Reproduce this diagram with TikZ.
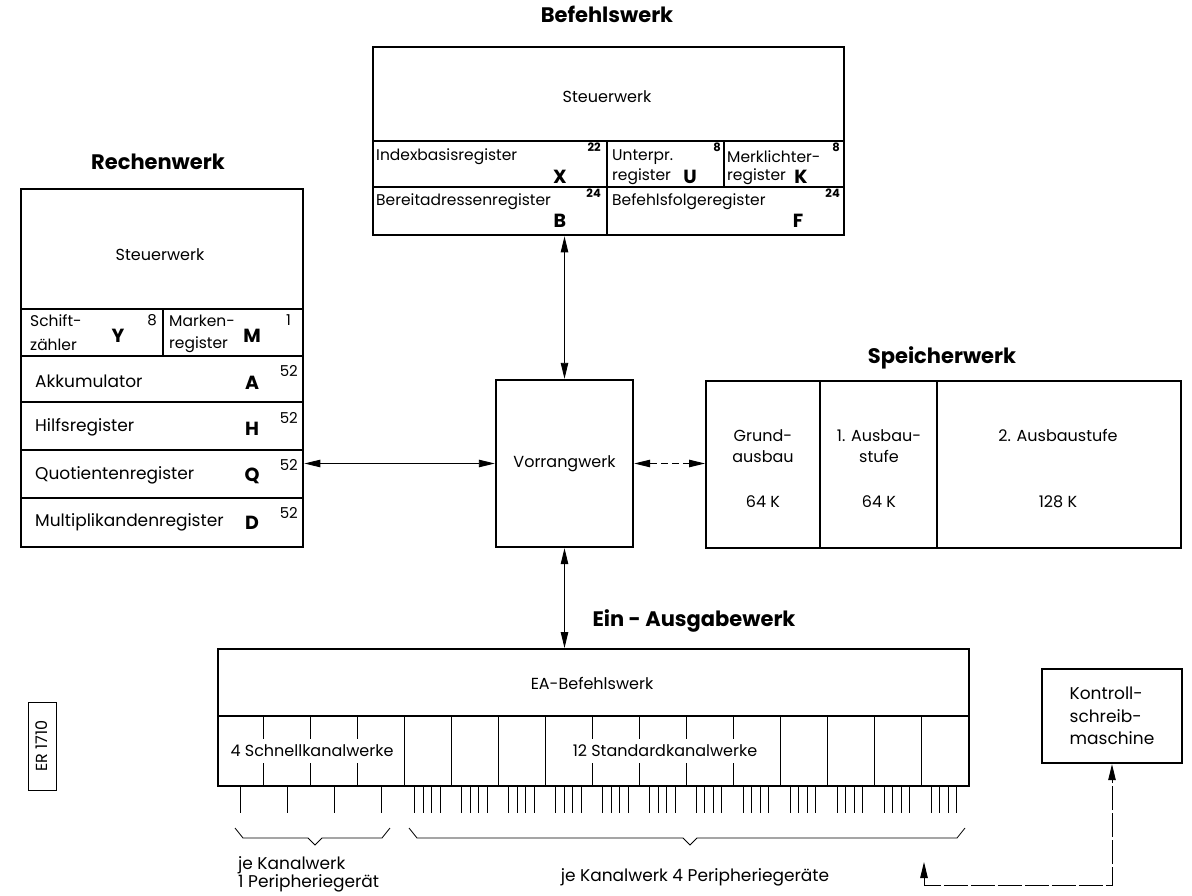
\documentclass[tikz,border=0pt]{standalone}
\usepackage{fontspec}
\setmainfont{Poppins}
\usetikzlibrary{arrows.meta}
\newcommand\fbody{\fontsize{16}{19}\selectfont}
\newcommand\freg{\fontsize{17}{20}\selectfont}
\newcommand\fcell{\fontsize{15.5}{19}\selectfont}
\newcommand\ftitle{\fontsize{21}{25}\selectfont\bfseries}
\newcommand\fletter{\fontsize{19}{22}\selectfont\bfseries}
\newcommand\fsmall{\fontsize{11.5}{13}\selectfont\bfseries}
\newcommand\fnum{\fontsize{15}{17}\selectfont}
\newcommand\fkon{\fontsize{17}{22.5}\selectfont}
\begin{document}
\begin{tikzpicture}[x=1pt,y=-1pt,
  >={Triangle[length=16pt,width=7.5pt]},
  outer/.style={draw, line width=2.4pt, inner sep=0pt},
  part/.style={line width=1.1pt},
  tick/.style={line width=0.8pt},
  conn/.style={line width=0.9pt, <->},
  brace/.style={line width=0.8pt},
  title/.style={inner sep=0pt, font=\ftitle},
  body/.style={inner sep=0pt, font=\fbody},
  cell/.style={inner sep=0pt, font=\fcell, anchor=west},
  reg/.style={inner sep=0pt, font=\freg, anchor=west},
  letter/.style={inner sep=0pt, font=\fletter},
  small/.style={inner sep=0pt, font=\fsmall, anchor=east},
  num/.style={inner sep=0pt, font=\fnum, anchor=east},
  gap/.style={inner xsep=2pt, inner ysep=6pt, fill=white, font=\fbody}
]
\useasboundingbox (0,0) rectangle (1192,896);

% ---------------- Befehlswerk ----------------
\node[title] (befT) at (607,14) {Befehlswerk};
\node[outer, anchor=north west, minimum width=471, minimum height=188] (bef) at (372,46) {};
\node[body] (befS) at (607,97) {Steuerwerk};
\draw[part] (372,141) -- (843,141);
\draw[part] (372,187) -- (843,187);
\draw[part] (607,141) -- (607,234);
\draw[part] (724,141) -- (724,187);
\node[cell] (bx1) at (376,157) {Indexbasisregister};
\node[small] (bx2) at (601,147) {22};
\node[letter] (bx3) at (560,177) {X};
\node[cell] (bu1) at (612,157) {Unterpr.};
\node[cell] (bu2) at (612,177) {register};
\node[letter] (bu3) at (690,177) {U};
\node[small] (bu4) at (721,147) {8};
\node[cell] (bk1) at (727,157) {Merklichter-};
\node[small] (bk2) at (840,147) {8};
\node[cell] (bk3) at (727,177) {register};
\node[letter] (bk4) at (801,177) {K};
\node[cell] (bb1) at (376,202) {Bereitadressenregister};
\node[small] (bb2) at (601,193) {24};
\node[letter] (bb3) at (560,221) {B};
\node[cell] (bf1) at (612,202) {Befehlsfolgeregister};
\node[small] (bf2) at (840,193) {24};
\node[letter] (bf3) at (798,221) {F};

% ---------------- Rechenwerk ----------------
\node[title] (recT) at (158,162) {Rechenwerk};
\node[outer, anchor=north west, minimum width=282, minimum height=358] (rec) at (20,188) {};
\node[body] (recS) at (160,255) {Steuerwerk};
\draw[part] (20,309) -- (302,309);
\draw[part] (20,356) -- (302,356);
\draw[part] (20,402) -- (302,402);
\draw[part] (20,450) -- (302,450);
\draw[part] (20,498) -- (302,498);
\draw[part] (163,309) -- (163,356);
\node[cell] (ry1) at (30,321) {Schift-};
\node[cell] (ry2) at (30,345) {zähler};
\node[letter] (ry3) at (118,336) {Y};
\node[num] (ry4) at (157,320) {8};
\node[cell] (rm1) at (169,321) {Marken-};
\node[cell] (rm2) at (169,345) {register};
\node[letter] (rm3) at (252,336) {M};
\node[num] (rm4) at (291,320) {1};
\node[reg] (ra1) at (35,381) {Akkumulator};
\node[letter] (ra2) at (252,383) {A};
\node[num] (ra3) at (298,371) {52};
\node[reg] (rh1) at (35,427) {Hilfsregister};
\node[letter] (rh2) at (252,429) {H};
\node[num] (rh3) at (298,418) {52};
\node[reg] (rq1) at (35,475) {Quotientenregister};
\node[letter] (rq2) at (252,476) {Q};
\node[num] (rq3) at (298,465) {52};
\node[reg] (rd1) at (35,522) {Multiplikandenregister};
\node[letter] (rd2) at (252,523) {D};
\node[num] (rd3) at (298,513) {52};

% ---------------- Vorrangwerk ----------------
\node[outer, minimum width=137, minimum height=167, font=\fbody] (vor) at (564.5,463.5) {Vorrangwerk};

% ---------------- Speicherwerk ----------------
\node[title] (speT) at (942,358) {Speicherwerk};
\node[outer, anchor=north west, minimum width=475, minimum height=167] (spe) at (705,380) {};
\draw[part] (820,380) -- (820,547);
\draw[part] (937,380) -- (937,547);
\node[body, align=center] (sp1) at (763,446) {Grund-\\[2pt]ausbau};
\node[body] (sp2) at (763,502) {64 K};
\node[body, align=center] (sp3) at (879,446) {1. Ausbau-\\[2pt]stufe};
\node[body] (sp4) at (879,502) {64 K};
\node[body] (sp5) at (1058,435) {2. Ausbaustufe};
\node[body] (sp6) at (1058,502) {128 K};

% ---------------- Ein-Ausgabewerk ----------------
\node[title] (eaT) at (694,621) {Ein - Ausgabewerk};
\node[outer, anchor=north west, minimum width=751, minimum height=137] (ea) at (217,648) {};
\node[body] (eaS) at (592,683) {EA-Befehlswerk};
\draw[part] (217,716) -- (968,716);
\foreach \k in {1,...,15} \draw[part] ({217+\k*46.9375},716) -- ++(0,69);
\node[gap] (ea1) at (312,751) {4 Schnellkanalwerke};
\node[gap] (ea2) at (665,751) {12 Standardkanalwerke};
\foreach \k in {0,...,3} \draw[tick] ({217+(\k+0.5)*46.9375},785) -- ++(0,28);
\foreach \k in {4,...,15} \foreach \o in {10,18.5,27,35.5}
  \draw[tick] ({217+\k*46.9375+\o},785) -- ++(0,28);
\draw[brace] (235,828) -- (243,838) -- (308,838) -- (315,845) -- (322,838) -- (382,838) -- (390,828);
\draw[brace] (409,828) -- (417,838) -- (683,838) -- (690,845) -- (697,838) -- (957,838) -- (965,828);
\node[inner sep=0pt, font=\freg, anchor=west] (lb1) at (238,865) {je Kanalwerk};
\node[inner sep=0pt, font=\freg, anchor=west] (lb2) at (238,883) {1 Peripherieger\"at};
\node[inner sep=0pt, font=\freg] (lb3) at (695,877) {je Kanalwerk 4 Peripherieger\"ate};

% ---------------- Kontrollschreibmaschine ----------------
\node[outer, minimum width=140, minimum height=94, align=left, font=\fkon] (kon) at (1112,716) {Kontroll-\\schreib-\\maschine};

% ---------------- ER 1710 ----------------
\node[draw, line width=1pt, rotate=90, minimum width=88, minimum height=28, inner sep=0pt, font=\fbody] (er) at (42,746) {ER 1710};

% ---------------- Connectors ----------------
\draw[conn] (bef.south -| vor.north) -- (vor.north);
\draw[conn] (rec.east |- vor.west) -- (vor.west);
\draw[conn, dash pattern=on 7pt off 4pt] (vor.east) -- (spe.west |- vor.east);
\draw[conn] (vor.south) -- (vor.south |- ea.north);
\coordinate (kend) at (924,862);
\coordinate (kcorner) at (924,885);
\draw[conn, dash pattern=on 24pt off 3pt] (kend) -- (kcorner) -| (kon.south);
\end{tikzpicture}
\end{document}
